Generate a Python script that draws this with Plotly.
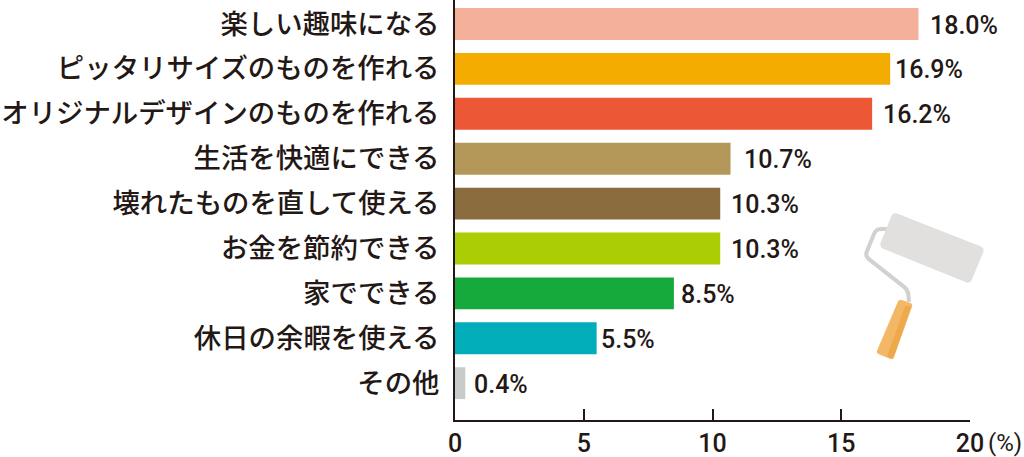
import plotly.graph_objects as go

categories = ["楽しい趣味になる", "ピッタリサイズのものを作れる", "オリジナルデザインのものを作れる",
              "生活を快適にできる", "壊れたものを直して使える", "お金を節約できる",
              "家でできる", "休日の余暇を使える", "その他"]
values = [18.0, 16.9, 16.2, 10.7, 10.3, 10.3, 8.5, 5.5, 0.4]
colors = ["#f5b09a", "#f5ac00", "#ec5835", "#b39859", "#8b6c3f",
          "#abcd03", "#16a93b", "#00adb9", "#c9caca"]
label_gaps = [9, 3, 9, 11, 9, 9, 5, 2, 7]
x_ticks = [0, 5, 10, 15, 20]

INK = "#231815"
NUM_FONT = "Roboto, sans-serif"
W, H, L, R, T, B = 1024, 457, 455, 54, 0, 37
PW, PH = W - L - R, H - T - B

def p(x, y):
    return f"{(x-L)/PW:.4f},{(H-B-y)/PH:.4f}"

def rounded(points, r, close=True):
    """Icon outline with softened corners, in page pixels."""
    n = len(points)
    out = []
    idx = range(n) if close else range(1, n - 1)
    for i in idx:
        x0, y0 = points[i - 1]
        x1, y1 = points[i]
        x2, y2 = points[(i + 1) % n]
        d0 = ((x0 - x1) ** 2 + (y0 - y1) ** 2) ** 0.5
        d1 = ((x2 - x1) ** 2 + (y2 - y1) ** 2) ** 0.5
        a = (x1 + (x0 - x1) * min(r, d0 / 2) / d0, y1 + (y0 - y1) * min(r, d0 / 2) / d0)
        b = (x1 + (x2 - x1) * min(r, d1 / 2) / d1, y1 + (y2 - y1) * min(r, d1 / 2) / d1)
        out.append(("L" if out else "M") + p(*a) + " Q" + p(x1, y1) + " " + p(*b))
    if close:
        return " ".join(out) + " Z"
    return "M" + p(*points[0]) + " L" + " ".join(out)[1:] + " L" + p(*points[-1])

def shape(d, fill=None, line=None, width=0):
    return dict(type="path", xref="paper", yref="paper", layer="above", path=d,
                fillcolor=fill or "rgba(0,0,0,0)",
                line=dict(color=line or "rgba(0,0,0,0)", width=width))

roller = [
    shape(rounded([(888, 229), (876, 229), (865, 256), (908, 290), (909, 302)], 5, close=False),
          line="#d0d2d2", width=4),
    shape(rounded([(893, 212), (985, 248), (970, 284), (879, 247)], 5), fill="#e2dfdf"),
    shape(rounded([(899, 299), (913, 304), (893, 360), (876, 353)], 3), fill="#f2b866"),
    shape(rounded([(905, 306), (911, 306), (893, 359), (887, 357)], 2), fill="#eda94c"),
]

fig = go.Figure(go.Bar(x=values, y=categories, orientation="h", width=0.71,
                       marker=dict(color=colors, line_width=0), hoverinfo="skip"))

annotations = [dict(x=v, y=c, xref="x", yref="y", text=f"{v:.1f}%", showarrow=False,
                    xanchor="left", xshift=g, yshift=-1,
                    font=dict(family=NUM_FONT, size=25, color=INK, weight=500))
               for v, c, g in zip(values, categories, label_gaps)]
annotations.append(dict(x=20, y=0, xref="x", yref="paper", text="(%)", showarrow=False,
                        xanchor="left", yanchor="top", xshift=16, yshift=-7,
                        font=dict(family=NUM_FONT, size=24, color=INK)))

fig.update_layout(
    width=W, height=H, autosize=False, showlegend=False,
    margin=dict(l=L, r=R, t=T, b=B, pad=0),
    paper_bgcolor="white", plot_bgcolor="white",
    annotations=annotations, shapes=roller,
    xaxis=dict(range=[0, 20], tickvals=x_ticks, ticks="inside", ticklen=11, tickwidth=2,
               tickcolor=INK, showgrid=False, zeroline=False, showline=True,
               linecolor=INK, linewidth=2,
               tickfont=dict(family=NUM_FONT, size=25, color=INK, weight=500)),
    yaxis=dict(categoryorder="array", categoryarray=categories, range=[8.82, -0.5345],
               ticks="", showgrid=False, zeroline=False, showline=True,
               linecolor=INK, linewidth=2, ticklabelstandoff=8,
               tickfont=dict(family="Noto Sans CJK JP", size=27.4, color=INK, weight=500)),
)
fig.write_html("out.html", config={"displayModeBar": False},
               post_script="document.body.style.margin='0';document.body.style.overflow='hidden';")
